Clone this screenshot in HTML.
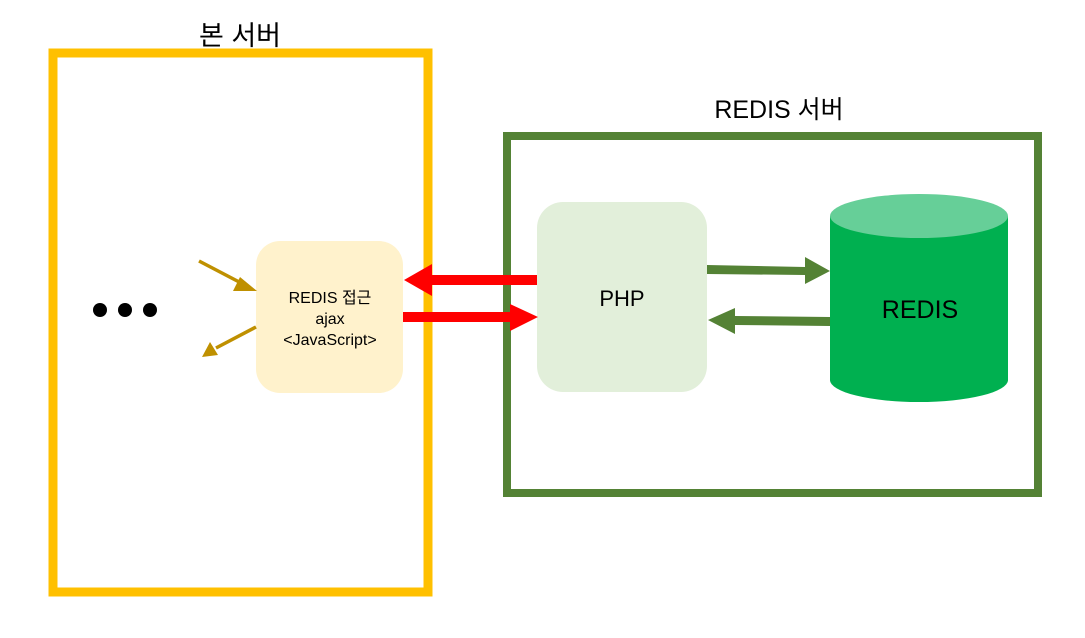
<!DOCTYPE html>
<html><head><meta charset="utf-8"><style>html,body{margin:0;padding:0;background:#fff}svg{display:block}</style></head>
<body>
<svg width="1085" height="638" viewBox="0 0 1085 638" xmlns="http://www.w3.org/2000/svg" font-family="'Liberation Sans','Noto Sans CJK KR',sans-serif">
<rect x="0" y="0" width="1085" height="638" fill="#fff"/>
<text x="240" y="45" font-size="27" text-anchor="middle" fill="#000">본 서버</text>
<rect x="53" y="53" width="375" height="539" fill="none" stroke="#FFC000" stroke-width="9"/>
<text x="779" y="118" font-size="25" text-anchor="middle" fill="#000">REDIS 서버</text>
<rect x="507" y="136" width="531" height="357" fill="none" stroke="#548235" stroke-width="8"/>
<rect x="256" y="241" width="147" height="152" rx="24" fill="#FFF2CC"/>
<text x="330" y="303" font-size="16" text-anchor="middle">REDIS 접근</text>
<text x="330" y="324" font-size="16" text-anchor="middle">ajax</text>
<text x="330" y="345" font-size="16" text-anchor="middle">&lt;JavaScript&gt;</text>
<rect x="537" y="202" width="170" height="190" rx="26" fill="#E2EFDA"/>
<text x="622" y="306" font-size="22" text-anchor="middle">PHP</text>
<path d="M830 216 L830 380 A89 22 0 0 0 1008 380 L1008 216 Z" fill="#00B050"/>
<ellipse cx="919" cy="216" rx="89" ry="22" fill="#66CF98"/>
<text x="920" y="318" font-size="25" text-anchor="middle">REDIS</text>
<circle cx="100" cy="310" r="7"/><circle cx="125" cy="310" r="7"/><circle cx="150" cy="310" r="7"/>
<rect x="430" y="275" width="107" height="10" fill="#FF0000"/>
<polygon points="404,280 432,264 432,296" fill="#FF0000"/>
<rect x="403" y="312" width="110" height="10" fill="#FF0000"/>
<polygon points="538,317 510,304 510,331" fill="#FF0000"/>
<polygon points="707,265 805,267 805,257 830,271 805,284 805,275 707,274" fill="#548235"/>
<polygon points="830,317 735,316 735,308 708,320 735,334 735,325 830,326" fill="#548235"/>
<line x1="199" y1="261" x2="243" y2="284" stroke="#BF9000" stroke-width="3.5"/>
<polygon points="257,291 240,277 233,291" fill="#BF9000"/>
<line x1="256" y1="327" x2="216" y2="348" stroke="#BF9000" stroke-width="3.5"/>
<polygon points="202,357 210,342 218,355" fill="#BF9000"/>
</svg>
</body></html>
